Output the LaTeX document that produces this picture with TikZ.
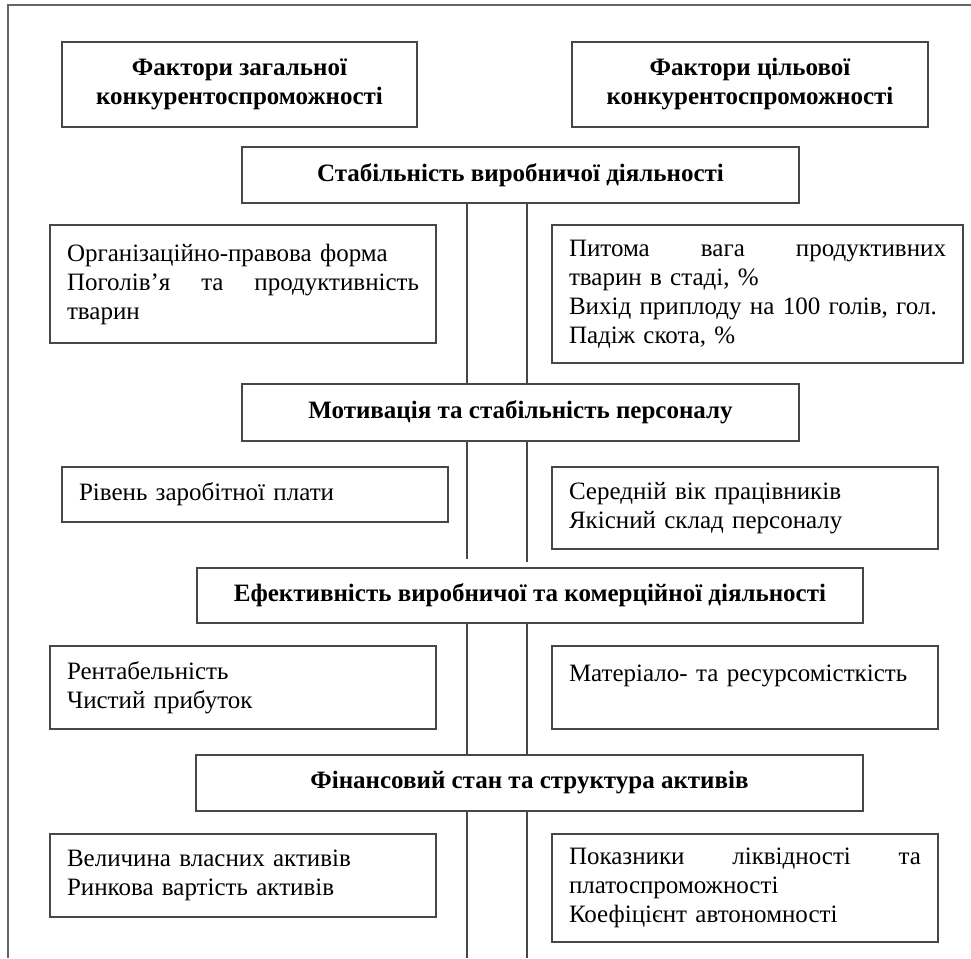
\documentclass[tikz,border=0pt]{standalone}
\usepackage{fontspec}
\setmainfont{Liberation Serif}
\begin{document}
\begin{tikzpicture}[x=1pt,y=-1pt,
  boxline/.style={draw=black!72, line width=1.3pt},
  headbox/.style={boxline, font=\fontsize{25}{29}\selectfont\bfseries, align=center, inner sep=2pt},
  bodybox/.style={boxline, font=\fontsize{25}{29}\selectfont, align=left, inner xsep=17pt, inner ysep=2pt, text width=#1},
  bodybox/.default=352pt,
  conn/.style={draw=black!72, line width=1.3pt},
  frameline/.style={draw=black!60, line width=1.4pt}]
\useasboundingbox (0,0) rectangle (971,958);
\draw[frameline] (8,958) -- (8,5) -- (971,5);

\node[headbox, minimum width=355pt, minimum height=85pt] (fz) at (239.5,84.5) {Фактори загальної\\конкурентоспроможності};
\node[headbox, minimum width=356pt, minimum height=85pt] (fc) at (750,84.5) {Фактори цільової\\конкурентоспроможності};

\node[headbox, minimum width=557pt, minimum height=56pt] (stab) at (520.5,175) {Стабільність виробничої діяльності};
\node[bodybox, minimum height=118pt] (org) at (243,284) {Організаційно-правова форма\\Поголів’я\hfill та\hfill продуктивність\\тварин};
\node[bodybox=377pt, minimum height=138pt] (pyt) at (757.5,294) {Питома\hfill вага\hfill продуктивних\\тварин в стаді, \%\\Вихід приплоду на 100 голів, гол.\\Падіж скота, \%};

\node[headbox, minimum width=557pt, minimum height=57pt] (motiv) at (520.5,412.5) {Мотивація та стабільність персоналу};
\node[bodybox, minimum height=55pt] (riv) at (255,494.5) {Рівень заробітної плати};
\node[bodybox, minimum height=82pt] (ser) at (745,508) {Середній вік працівників\\Якісний склад персоналу};

\node[headbox, minimum width=666pt, minimum height=55pt] (efekt) at (530,595.5) {Ефективність виробничої та комерційної діяльності};
\node[bodybox, minimum height=83pt] (rent) at (243,687.5) {Рентабельність\\Чистий прибуток};
\node[bodybox, minimum height=83pt] (mat) at (745,687.5) {Матеріало- та ресурсомісткість\\\mbox{}};

\node[headbox, minimum width=667pt, minimum height=56pt] (fin) at (529.5,783) {Фінансовий стан та структура активів};
\node[bodybox, minimum height=83pt] (vel) at (243,875.5) {Величина власних активів\\Ринкова вартість активів};
\node[bodybox, minimum height=108pt] (pok) at (745,888) {Показники\hfill ліквідності\hfill та\\платоспроможності\\Коефіцієнт автономності};

\coordinate (xL) at (467,0);
\coordinate (xR) at (527,0);
\coordinate (bot) at (0,958);

\draw[conn] (stab.south -| xL) -- (motiv.north -| xL);
\draw[conn] (stab.south -| xR) -- (motiv.north -| xR);
\draw[conn, shorten >=8pt] (motiv.south -| xL) -- (efekt.north -| xL);
\draw[conn, shorten >=5pt] (motiv.south -| xR) -- (efekt.north -| xR);
\draw[conn] (efekt.south -| xL) -- (fin.north -| xL);
\draw[conn] (efekt.south -| xR) -- (fin.north -| xR);
\draw[conn] (fin.south -| xL) -- (bot -| xL);
\draw[conn] (fin.south -| xR) -- (bot -| xR);
\end{tikzpicture}
\end{document}
